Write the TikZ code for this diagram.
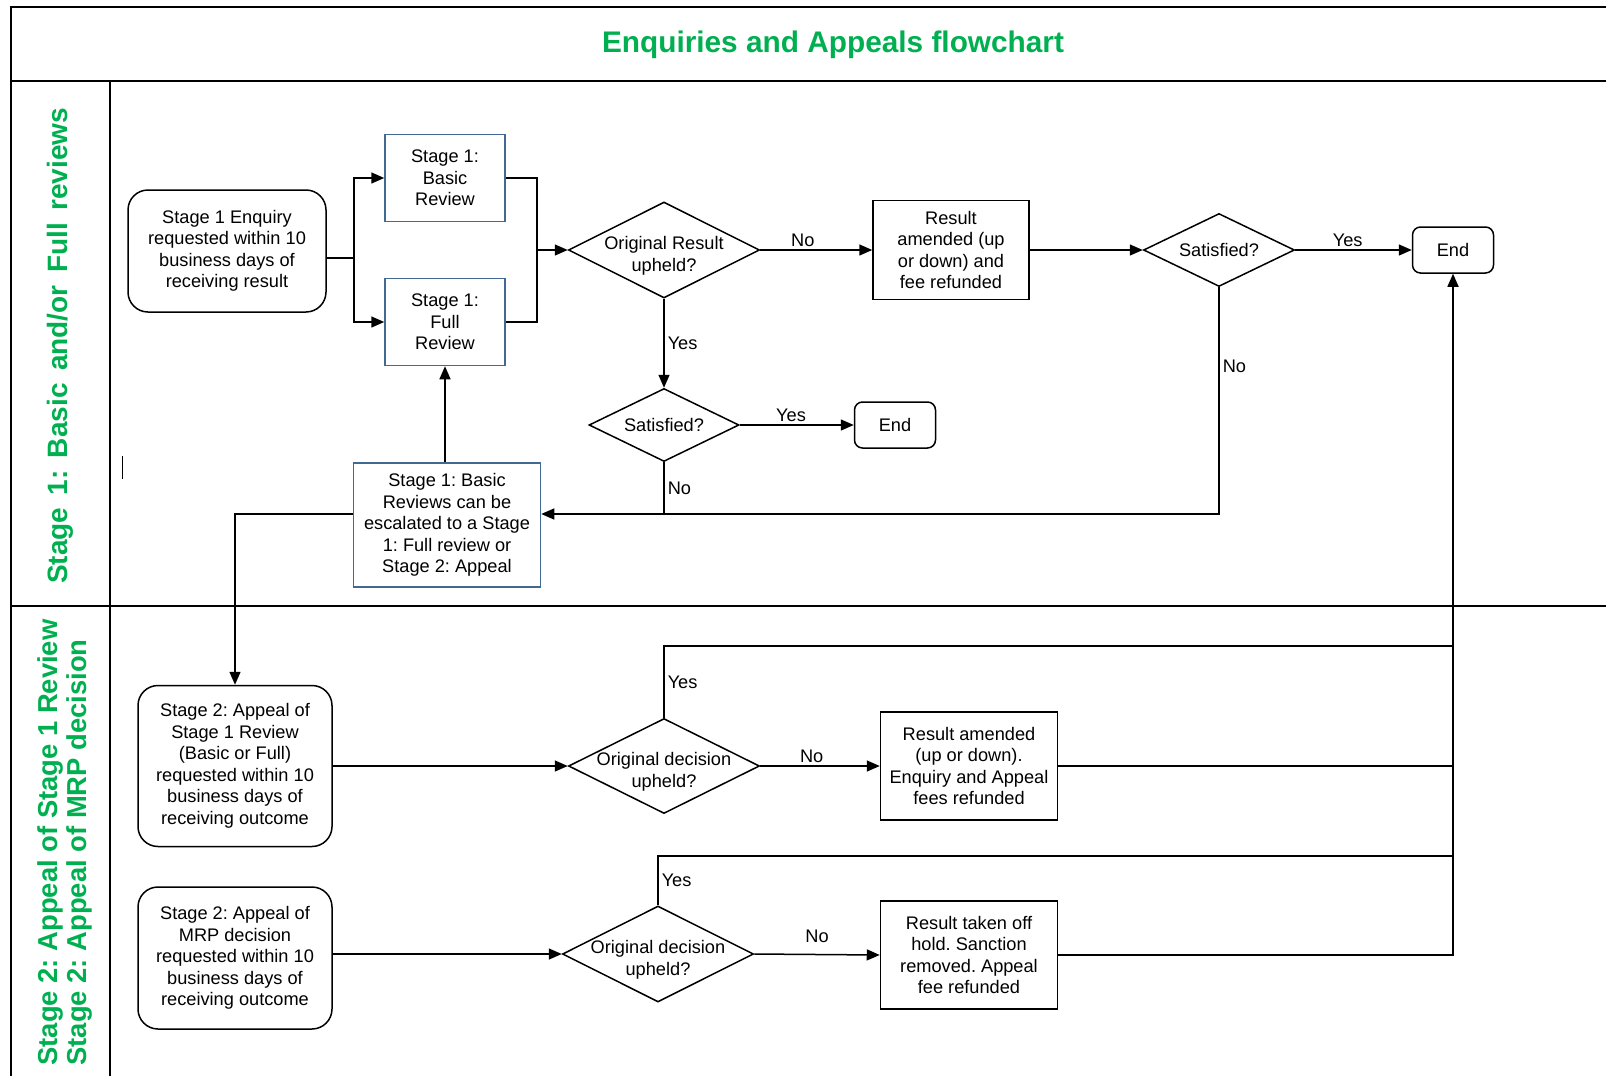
\documentclass[tikz,border=0pt]{standalone}
\usepackage{fontspec}
\setmainfont{Liberation Sans}
\usetikzlibrary{positioning,calc}
\usetikzlibrary{shapes.geometric, arrows.meta}
\definecolor{lanegreen}{RGB}{0,176,80}
\definecolor{boxblue}{RGB}{65,105,145}
\newcommand\lowr{\rule{0pt}{12.6pt}}
\newcommand\widesp{\spaceskip=6.2pt\relax}
\tikzset{
  txt/.style={font=\fontsize{9.1}{10.75}\selectfont, align=center, inner sep=0pt},
  st/.style={txt, rectangle, rounded corners=10pt, draw=black},
  ed/.style={txt, rectangle, rounded corners=4pt, draw=black, minimum width=40.5pt, minimum height=23pt},
  op/.style={txt, rectangle, draw=black},
  opb/.style={txt, rectangle, draw=boxblue},
  cn/.style={txt, diamond, aspect=2, inner sep=-6pt, draw=black},
  lb/.style={font=\fontsize{9.1}{10.75}\selectfont, inner sep=1.5pt},
  ln/.style={text=lanegreen, rotate=90, align=left},
  >={Triangle[length=6.5pt,width=5.5pt]}
}

\begin{document}
\frenchspacing
\begin{tikzpicture}[x=0.5pt, y=-0.5pt, line width=0.75pt]
\useasboundingbox (0,0) rectangle (1606,1076);
% frame and lanes
\draw[line width=1.1pt] (1606,7) -- (11,7) -- (11,1076);
\draw[line width=1.1pt] (11,81) -- (1606,81);
\draw (110,81) -- (110,1076);
\draw (11,606) -- (1606,606);
\node[font=\fontsize{14.9}{16}\selectfont\bfseries, text=lanegreen] (title) at (833,45) {Enquiries and Appeals flowchart};
\node[ln, font=\fontsize{14}{15}\selectfont\bfseries] (lane1) at (60,346) {\widesp Stage 1: Basic and/or Full reviews};
\node[ln, font=\fontsize{13.7}{14.8}\selectfont\bfseries, anchor=west] (lane2) at (65,1073) {Stage 2: Appeal of Stage 1 Review\\Stage 2: Appeal of MRP decision};
\draw[line width=0.5pt] (122,456) -- (122,479);

% stage 1
\node[st, minimum width=99pt, minimum height=61pt] (enq) at (227,251) {Stage 1 Enquiry\\requested within 10\\business days of\\receiving result};
\node[opb, minimum width=60pt, minimum height=43.5pt] (basic) at (445,178) {Stage 1:\\Basic\\Review};
\node[opb, minimum width=60pt, minimum height=43.5pt] (full) at (445,322) {Stage 1:\\Full\\Review};
\node[cn, minimum width=95.5pt, minimum height=48pt] (orig1) at (664,250) {\lowr Original Result\\upheld?};
\node[op, minimum width=78pt, minimum height=49.5pt] (amend1) at (951,250) {Result\\amended (up\\or down) and\\fee refunded};
\node[cn, minimum width=75.5pt, minimum height=36.5pt] (sat2) at (1219,250) {Satisfied?};
\node[ed] (end2) at (1453,250) {End};
\node[cn, minimum width=75pt, minimum height=36.5pt] (sat1) at (664,425) {Satisfied?};
\node[ed] (end1) at (895,425) {End};
\node[opb, minimum width=93.5pt, minimum height=62pt] (esc) at (447,525) {Stage 1: Basic\\Reviews can be\\escalated to a Stage\\1: Full review or\\Stage 2: Appeal};

% stage 2
\node[st, minimum width=97pt, minimum height=80.5pt] (app1) at (235,766) {Stage 2: Appeal of\\Stage 1 Review\\(Basic or Full)\\requested within 10\\business days of\\receiving outcome};
\node[cn, minimum width=95.5pt, minimum height=47.5pt] (orig2) at (664,766) {\lowr Original decision\\upheld?};
\node[op, minimum width=88.5pt, minimum height=54pt] (amend2) at (969,766) {Result amended\\(up or down).\\Enquiry and Appeal\\fees refunded};
\node[st, minimum width=97pt, minimum height=71pt] (app2) at (235,958) {Stage 2: Appeal of\\MRP decision\\requested within 10\\business days of\\receiving outcome};
\node[cn, minimum width=95.5pt, minimum height=48pt] (orig3) at (658,954) {\lowr Original decision\\upheld?};
\node[op, minimum width=88.5pt, minimum height=54pt] (amend3) at (969,955) {Result taken off\\hold. Sanction\\removed. Appeal\\fee refunded};

\coordinate (split) at (354,258);
\coordinate (merge) at (537,250);
\coordinate (jn) at (664,514);
\coordinate (yes2) at (664,646);
\coordinate (yes3) at (658,856);

\draw (enq.east |- split) -- (split);
\draw[->] (split) |- (basic.west);
\draw[->] (split) |- (full.west);
\draw (basic.east) -| (merge);
\draw (full.east) -| (merge);
\draw[->] (merge) -- (orig1.west);
\path[->]
(orig1.east) edge node[lb, above, pos=0.38] {No} (amend1.west)
(orig1.south) edge node[lb, right] {Yes} (sat1.north)
(amend1.east) edge (sat2.west)
(sat2.east) edge node[lb, above, pos=0.45] {Yes} (end2.west)
(sat1.east) edge node[lb, above, pos=0.45] {Yes} (end1.west);
\draw[->] (sat2.south) -- node[lb, right, pos=0.35] {No} (sat2.south |- jn) -- (esc.east |- jn);
\draw (sat1.south) -- node[lb, right] {No} (jn);
\draw[->] (full.south |- esc.north) -- (full.south);
\draw[->] (esc.west |- jn) -| (app1.north);

\draw[->] (app1.east) -- (orig2.west);
\draw[->] (orig2.east) -- node[lb, above, pos=0.43] {No} (amend2.west);
\draw[->] (app2.east |- orig3.west) -- (orig3.west);
\draw[->] (orig3.east) -- node[lb, above=4pt] {No} (amend3.west);
\draw (orig2.north) |- node[lb, right, pos=0.25] {Yes} (end2.south |- yes2);
\draw (orig3.north) |- node[lb, right, pos=0.25] {Yes} (end2.south |- yes3);
\draw (amend2.east) -- (amend2.east -| end2.south);
\draw[->] (amend3.east) -| (end2.south);
\end{tikzpicture}
\end{document}
